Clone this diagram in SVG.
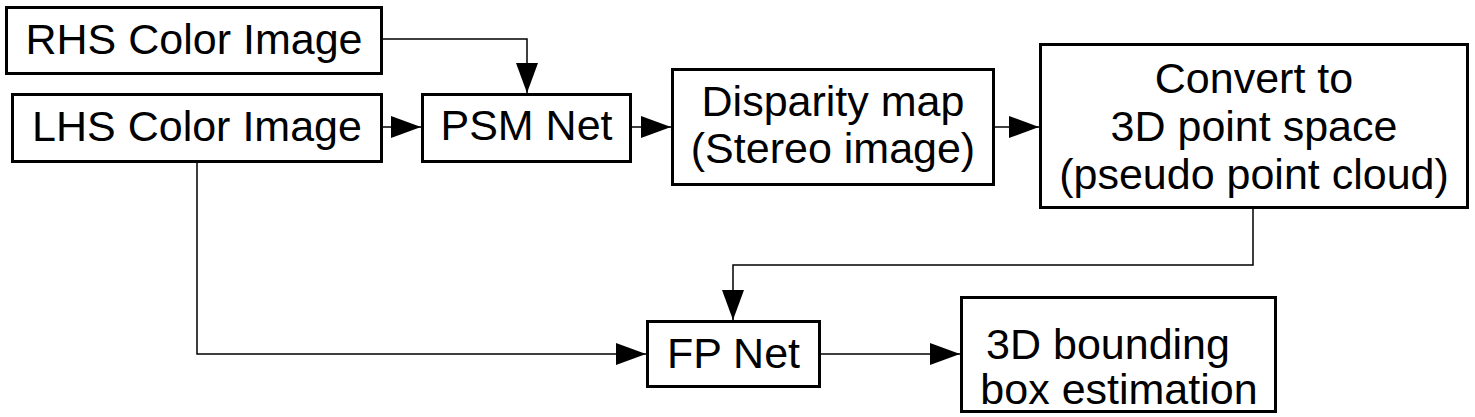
<svg xmlns="http://www.w3.org/2000/svg" width="1475" height="417" viewBox="0 0 1475 417">
<style>
.box{fill:#fff;stroke:#000;stroke-width:3}
.lbl{font-family:"Liberation Sans",Arial,sans-serif;font-size:43px;fill:#000;text-anchor:middle}
.conn{fill:none;stroke:#000;stroke-width:1.5}
</style>
<defs>
<marker id="arr" viewBox="0 0 30 22" refX="30" refY="11" markerWidth="30" markerHeight="22" markerUnits="userSpaceOnUse" orient="auto">
<path d="M0,0 L30,11 L0,22 z" fill="#000"/>
</marker>
</defs>
<rect width="1475" height="417" fill="#fff"/>
<g id="connectors">
<path class="conn" d="M383,39 H527 V93" marker-end="url(#arr)"/>
<path class="conn" d="M383,127 H421" marker-end="url(#arr)"/>
<path class="conn" d="M632,127 H671" marker-end="url(#arr)"/>
<path class="conn" d="M995,127 H1039" marker-end="url(#arr)"/>
<path class="conn" d="M1253,209 V265 H733 V320" marker-end="url(#arr)"/>
<path class="conn" d="M197,163 V354 H646" marker-end="url(#arr)"/>
<path class="conn" d="M821,354 H960" marker-end="url(#arr)"/>
</g>
<g id="rhs">
<rect class="box" x="6.5" y="7.5" width="375" height="66"/>
<text class="lbl" x="194" y="54">RHS Color Image</text>
</g>
<g id="lhs">
<rect class="box" x="12.5" y="94.5" width="369" height="67"/>
<text class="lbl" x="197" y="141">LHS Color Image</text>
</g>
<g id="psm">
<rect class="box" x="422.5" y="94.5" width="208" height="67"/>
<text class="lbl" x="526.5" y="140">PSM Net</text>
</g>
<g id="disparity">
<rect class="box" x="672.5" y="69.5" width="321" height="115"/>
<text class="lbl" x="833" y="116">Disparity map</text>
<text class="lbl" x="833" y="163">(Stereo image)</text>
</g>
<g id="convert">
<rect class="box" x="1040.5" y="44.5" width="427" height="163"/>
<text class="lbl" x="1254" y="93">Convert to</text>
<text class="lbl" x="1254" y="141">3D point space</text>
<text class="lbl" x="1254" y="189">(pseudo point cloud)</text>
</g>
<g id="fpnet">
<rect class="box" x="647.5" y="321.5" width="172" height="65"/>
<text class="lbl" x="733.5" y="368">FP Net</text>
</g>
<g id="bbox">
<rect class="box" x="961.5" y="297.5" width="314" height="114"/>
<text class="lbl" x="1108" y="359">3D bounding</text>
<text class="lbl" x="1119" y="404">box estimation</text>
</g>
</svg>
